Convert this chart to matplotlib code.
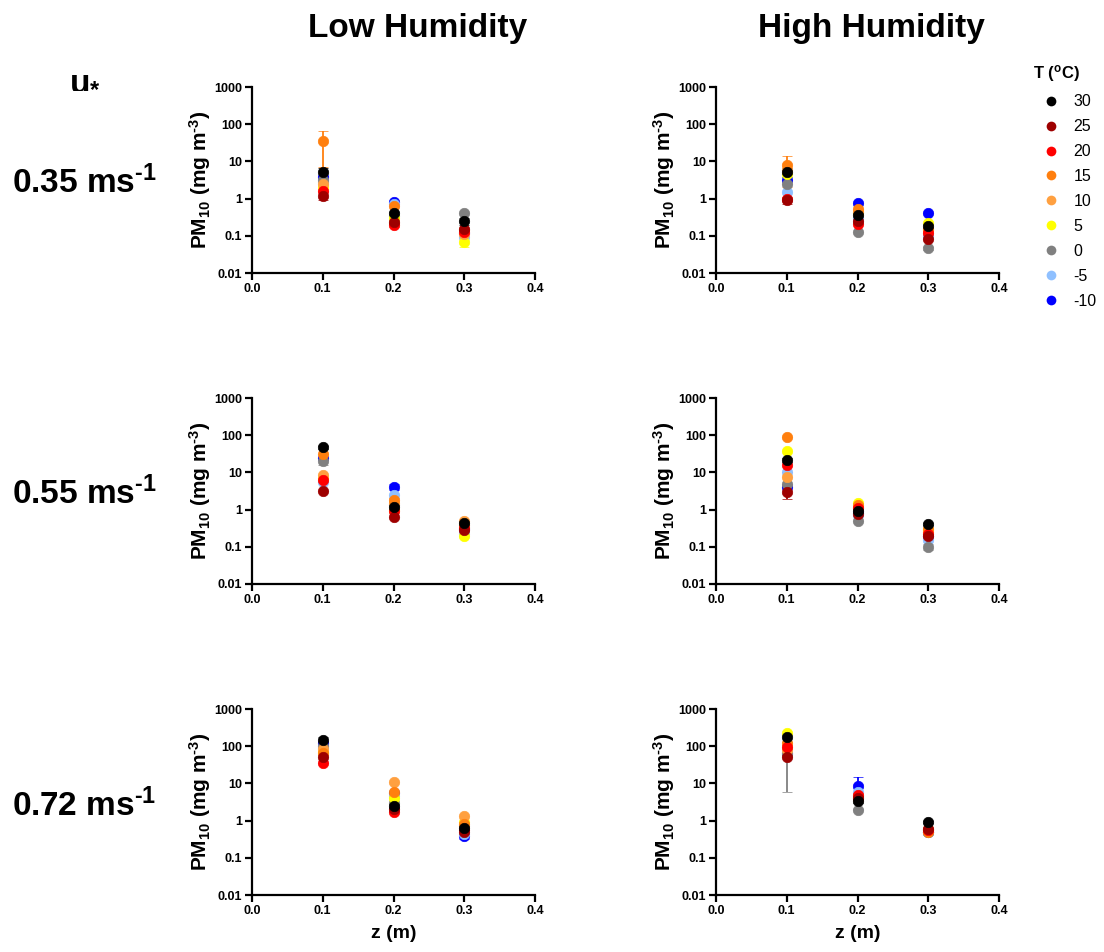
import numpy as np
import matplotlib
matplotlib.use('Agg')
import matplotlib.pyplot as plt
from matplotlib.lines import Line2D
from matplotlib.ticker import FixedLocator, FixedFormatter

plt.rcParams['font.family'] = ['Liberation Sans', 'DejaVu Sans']
plt.rcParams['font.weight'] = 'bold'
plt.rcParams['mathtext.fontset'] = 'custom'
plt.rcParams['mathtext.rm'] = 'Liberation Sans:bold'
plt.rcParams['mathtext.bf'] = 'Liberation Sans:bold'
plt.rcParams['mathtext.it'] = 'Liberation Sans:bold'
plt.rcParams['mathtext.default'] = 'bf'

# Heights above surface (m)
z = [0.1, 0.2, 0.3]

# Temperature series and their colours
temps = ['30', '25', '20', '15', '10', '5', '0', '-5', '-10']
colors = ['#000000', '#9e0000', '#ff0000', '#ff7f0e', '#ffa040',
          '#ffff00', '#808080', '#8fc0ff', '#0000ff']

# PM10 (mg m-3) per temperature (rows follow temps), columns follow z
low_035 = [[5.3, 0.40, 0.25], [1.2, 0.24, 0.15], [1.6, 0.19, 0.13],
           [36, 0.63, 0.14], [2.5, 0.22, 0.11], [2.0, 0.30, 0.068],
           [3.2, 0.35, 0.40], [2.8, 0.70, 0.093], [3.9, 0.83, 0.12]]
low_035_err = [[1.2, 0.05, 0.05], [0.3, 0, 0], [0, 0, 0],
               [29, 0, 0], [0, 0.05, 0], [0, 0, 0.018],
               [0, 0, 0], [0, 0, 0], [0, 0, 0]]

high_035 = [[5.3, 0.36, 0.18], [0.92, 0.25, 0.083], [1.0, 0.21, 0.12],
            [8.0, 0.52, 0.15], [6.0, 0.45, 0.14], [4.5, 0.40, 0.22],
            [2.5, 0.13, 0.046], [1.55, 0.30, 0.10], [3.2, 0.78, 0.40]]
high_035_err = [[1.5, 0.03, 0.02], [0.2, 0, 0], [0, 0, 0],
                [6, 0, 0], [0, 0, 0], [0, 0, 0],
                [0, 0, 0.005], [0, 0, 0], [0, 0, 0]]

low_055 = [[47, 1.15, 0.43], [3.2, 0.64, 0.28], [6.3, 0.90, 0.32],
           [31, 1.8, 0.38], [8.5, 1.5, 0.50], [7.0, 1.0, 0.19],
           [20, 1.3, 0.35], [5.5, 2.5, 0.22], [25, 4.1, 0.30]]
low_055_err = [[5, 0.1, 0.03], [0, 0, 0], [0, 0, 0],
               [0, 0.3, 0], [0, 0, 0], [0, 0, 0],
               [4, 0, 0], [0, 0, 0], [0, 0.8, 0]]

high_055 = [[22, 0.92, 0.42], [3.0, 0.75, 0.19], [16, 1.1, 0.22],
            [91, 1.3, 0.30], [7.7, 1.2, 0.25], [38, 1.5, 0.29],
            [4.9, 0.49, 0.10], [10.5, 0.70, 0.15], [4.0, 0.80, 0.20]]
high_055_err = [[3, 0.1, 0.03], [1.1, 0, 0], [6, 0, 0],
                [0, 0, 0], [0, 0, 0], [0, 0, 0],
                [0, 0, 0.02], [0, 0, 0], [0, 0, 0]]

low_072 = [[145, 2.5, 0.63], [52, 2.0, 0.50], [36, 1.7, 0.55],
           [65, 6.0, 0.80], [83, 10.9, 1.33], [70, 4.0, 0.90],
           [100, 3.0, 0.70], [90, 4.5, 0.45], [120, 5.5, 0.39]]
low_072_err = [[30, 0.3, 0.05], [0, 0, 0], [0, 0, 0],
               [0, 0, 0], [0, 0, 0], [0, 0, 0],
               [0, 0, 0], [0, 0, 0], [0, 0, 0.06]]

high_072 = [[173, 3.3, 0.92], [52, 4.0, 0.60], [97, 5.0, 0.55],
            [120, 4.5, 0.50], [80, 3.8, 0.60], [222, 4.2, 0.55],
            [60, 1.9, 0.50], [70, 6.0, 0.50], [65, 8.5, 0.50]]
high_072_err = [[40, 0.3, 0.05], [0, 0, 0], [0, 0, 0],
                [0, 0, 0], [0, 0, 0], [0, 0, 0],
                [54, 0, 0.08], [0, 0, 0], [0, 6.5, 0]]

y_ticks = [0.01, 0.1, 1, 10, 100, 1000]
y_ticklabels = ['0.01', '0.1', '1', '10', '100', '1000']
x_ticks = [0.0, 0.1, 0.2, 0.3, 0.4]
x_ticklabels = ['0.0', '0.1', '0.2', '0.3', '0.4']

panels = [[(low_035, low_035_err), (high_035, high_035_err)],
          [(low_055, low_055_err), (high_055, high_055_err)],
          [(low_072, low_072_err), (high_072, high_072_err)]]

fig = plt.figure(figsize=(11.04, 9.52), dpi=100)

lefts = [252 / 1104, 716 / 1104]
width = 283 / 1104
bottoms = [1 - 273 / 952, 1 - 584 / 952, 1 - 895 / 952]
height = 186 / 952

HY = '\u2010'  # short hyphen for exponents

for r in range(3):
    for c in range(2):
        ax = fig.add_axes([lefts[c], bottoms[r], width, height])
        vals, errs = panels[r][c]
        # draw the coldest first so the warm series end on top
        for i in reversed(range(len(temps))):
            v = np.array(vals[i], dtype=float)
            e = np.array(errs[i], dtype=float)
            eb = ax.errorbar(z, v, yerr=e, fmt='o', color=colors[i], ecolor=colors[i],
                             markersize=7.5, capsize=3.5, elinewidth=1.3, capthick=1.3,
                             markeredgecolor=colors[i], markeredgewidth=0.5)
            for cap in eb[1]:
                cap.set_color('black' if i != 3 else colors[i])
        ax.set_yscale('log')
        ax.set_ylim(0.01, 1000)
        ax.set_xlim(0.0, 0.4)
        ax.yaxis.set_major_locator(FixedLocator(y_ticks))
        ax.yaxis.set_major_formatter(FixedFormatter(y_ticklabels))
        ax.yaxis.set_minor_locator(FixedLocator([]))
        ax.set_xticks(x_ticks)
        ax.set_xticklabels(x_ticklabels)
        for s in ['top', 'right']:
            ax.spines[s].set_visible(False)
        for s in ['left', 'bottom']:
            ax.spines[s].set_linewidth(1.6)
        ax.tick_params(width=1.6, length=5, labelsize=9, pad=2)
        for lab in ax.get_xticklabels() + ax.get_yticklabels():
            lab.set_fontweight('bold')
        ax.set_ylabel('PM$_{10}$ (mg m$^{' + HY + '3}$)', fontsize=15, fontweight='bold',
                      labelpad=1)
        if r == 2:
            ax.set_xlabel('z (m)', fontsize=14, fontweight='bold', labelpad=6)

# Column titles
fig.text(418 / 1104, 1 - 28 / 952, 'Low Humidity', fontsize=24, fontweight='bold',
         ha='center', va='center')
fig.text(871 / 1104, 1 - 28 / 952, 'High Humidity', fontsize=24, fontweight='bold',
         ha='center', va='center')

# Row labels
fig.text(85 / 1104, 1 - 80 / 952, r'u$_{*}$', fontsize=24, ha='center', va='center')
row_labels = ['0.35 ms$^{' + HY + '1}$', '0.55 ms$^{' + HY + '1}$', '0.72 ms$^{' + HY + '1}$']
row_y = [183, 494, 806]
for lab, yy in zip(row_labels, row_y):
    fig.text(84 / 1104, 1 - yy / 952, lab, fontsize=24, fontweight='bold',
             ha='center', va='center')

# Legend
handles = [Line2D([], [], marker='o', linestyle='none', color=col, markersize=7,
                  markeredgewidth=0) for col in colors]
leg = fig.legend(handles, temps, loc='upper left', bbox_to_anchor=(1027 / 1104, 1 - 57 / 952),
                 frameon=False, title='T ($^{o}$C)', handlelength=2.2, handletextpad=0.3,
                 labelspacing=0.62, borderaxespad=0, prop={'size': 11.5, 'weight': 'normal'},
                 title_fontproperties={'size': 12, 'weight': 'bold'})
leg._legend_box.align = 'left'

fig.savefig('out.png', dpi=100)
